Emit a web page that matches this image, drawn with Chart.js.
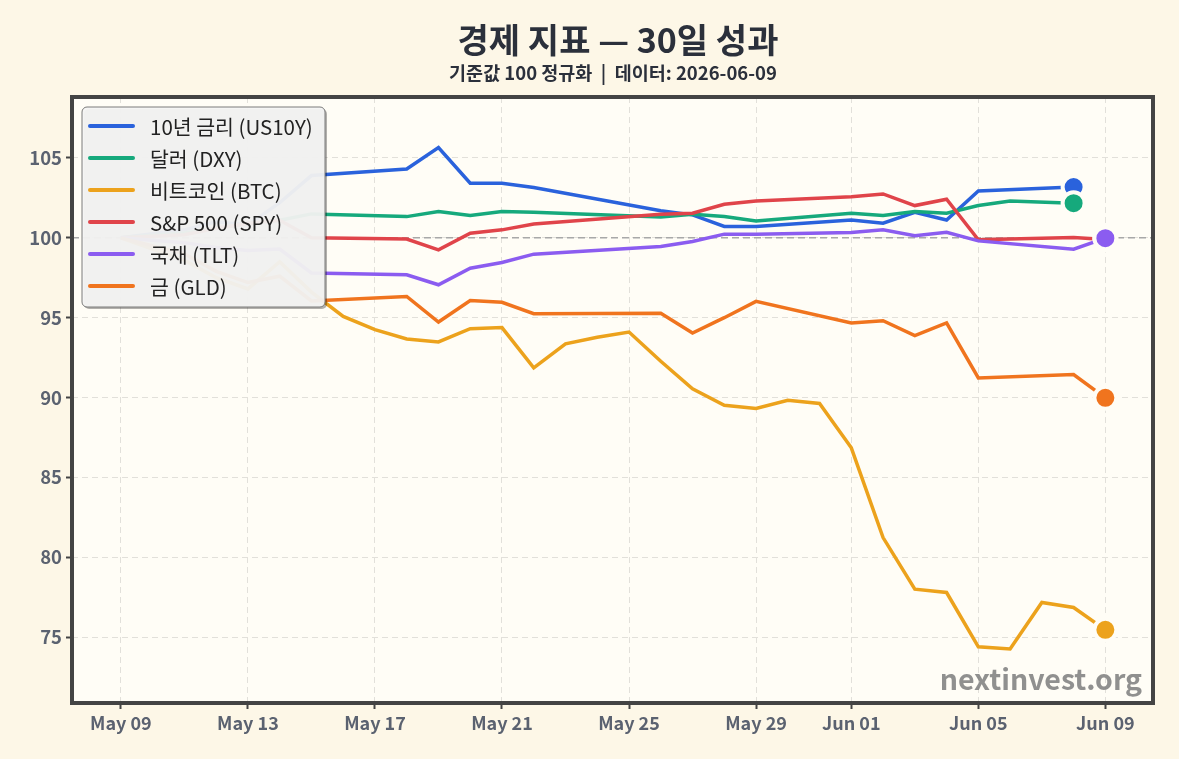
<!DOCTYPE html>
<html>
<head>
<meta charset="utf-8">
<script src="https://cdn.jsdelivr.net/npm/chart.js@4.4.1/dist/chart.umd.min.js"></script>
<style>
  html, body { margin: 0; padding: 0; background: #fdf7e7; }
  #wrap { position: relative; width: 1179px; height: 759px; }
</style>
</head>
<body>
<div id="wrap"><canvas id="c"></canvas></div>
<script>
// ---- data (day index 0 = 2026-05-09) ----
const dates = ['05-09','05-10','05-11','05-12','05-13','05-14','05-15','05-16','05-17','05-18','05-19','05-20','05-21','05-22','05-23','05-24','05-25','05-26','05-27','05-28','05-29','05-30','05-31','06-01','06-02','06-03','06-04','06-05','06-06','06-07','06-08','06-09'];
const tickDays = [0, 4, 8, 12, 16, 20, 23, 27, 31];
const tickLabels = ['May 09','May 13','May 17','May 21','May 25','May 29','Jun 01','Jun 05','Jun 09'];
const yTicks = [75, 80, 85, 90, 95, 100, 105];
const seriesNames = ['10년 금리 (US10Y)', '달러 (DXY)', '비트코인 (BTC)', 'S&P 500 (SPY)', '국채 (TLT)', '금 (GLD)'];
const seriesColors = ['#2a62dc', '#16a97c', '#eca21c', '#e0444a', '#8b5cf0', '#f0741e'];

const us10y = [100, null, 100.5, 101.0, 100.8, 102.2, 103.9, null, null, 104.31, 105.65, 103.42, 103.42, 103.15, null, null, null, 101.7, 101.44, 100.71, 100.71, null, null, 101.12, 100.92, 101.6, 101.12, 102.94, null, null, 103.18, null];
const dxy   = [100, null, 100.3, 100.6, 100.9, 101.1, 101.5, null, null, 101.33, 101.65, 101.4, 101.65, 101.6, null, null, null, 101.3, 101.48, 101.33, 101.06, null, null, 101.54, 101.4, 101.65, 101.54, 102.02, 102.3, null, 102.17, null];
const btc   = [100, 99.3, 98.6, 97.5, 96.8, 98.5, 96.6, 95.08, 94.25, 93.67, 93.48, 94.31, 94.38, 91.86, 93.36, 93.77, 94.1, 92.27, 90.55, 89.52, 89.31, 89.83, 89.63, 86.85, 81.23, 78.0, 77.79, 74.39, 74.25, 77.17, 76.85, 75.45];
const spy   = [100, null, 100.2, 100.6, 100.9, 101.1, 100.0, null, null, 99.92, 99.25, 100.29, 100.5, 100.87, null, null, null, 101.48, 101.54, 102.1, 102.31, null, null, 102.58, 102.75, 102.02, 102.42, 99.88, null, null, 100.02, 99.9];
const tlt   = [100, null, 99.7, 99.4, 99.2, 99.3, 97.8, null, null, 97.69, 97.06, 98.1, 98.46, 98.98, null, null, null, 99.46, 99.77, 100.23, 100.23, null, null, 100.33, 100.5, 100.13, 100.35, 99.81, null, null, 99.29, 99.98];
const gld   = [100, null, 99.0, 97.9, 97.2, 97.6, 96.05, null, null, 96.33, 94.73, 96.08, 95.96, 95.25, null, null, null, 95.27, 94.04, 95.0, 96.02, null, null, 94.67, 94.81, 93.88, 94.67, 91.23, null, null, 91.44, 89.98];
const seriesValues = [us10y, dxy, btc, spy, tlt, gld];

const titleText = '경제 지표 — 30일 성과';
const subtitleText = '기준값 100 정규화  |  데이터: 2026-06-09';
const watermarkText = 'nextinvest.org';

// ---- styling ----
const FONT = "'Noto Sans CJK KR', 'Noto Sans', sans-serif";
const PLOT_BG = '#fffdf6';

function lastIndex(arr) { for (let i = arr.length - 1; i >= 0; i--) if (arr[i] !== null) return i; return -1; }

const datasets = seriesValues.map((vals, k) => {
  const li = lastIndex(vals);
  return {
    label: seriesNames[k],
    data: vals.map((v, i) => ({ x: i, y: v })),
    borderColor: seriesColors[k],
    backgroundColor: seriesColors[k],
    borderWidth: 3.5,
    tension: 0,
    spanGaps: true,
    order: seriesValues.length - k,
    pointRadius: ctx => ctx.dataIndex === li ? 11 : 0,
    pointHoverRadius: 0,
    pointBackgroundColor: seriesColors[k],
    pointBorderColor: PLOT_BG,
    pointBorderWidth: 4
  };
});

const decor = {
  id: 'decor',
  beforeDraw(chart) {
    const { ctx, chartArea: a } = chart;
    ctx.save();
    ctx.fillStyle = PLOT_BG;
    ctx.fillRect(a.left, a.top, a.right - a.left, a.bottom - a.top);
    ctx.fillStyle = '#2b303b';
    ctx.textAlign = 'center';
    ctx.textBaseline = 'middle';
    ctx.font = `bold 34px ${FONT}`;
    ctx.fillText(titleText, 618, 40);
    ctx.font = `bold 18.5px ${FONT}`;
    ctx.fillText(subtitleText, 613, 73);
    ctx.restore();
  },
  beforeDatasetsDraw(chart) {
    const { ctx, chartArea: a, scales } = chart;
    ctx.save();
    const y = scales.y.getPixelForValue(100);
    ctx.strokeStyle = '#a8a8a8';
    ctx.lineWidth = 1.5;
    ctx.setLineDash([7, 4]);
    ctx.beginPath(); ctx.moveTo(a.left, y); ctx.lineTo(a.right, y); ctx.stroke();
    ctx.setLineDash([]);
    ctx.fillStyle = 'rgba(125,125,125,0.85)';
    ctx.font = `bold 28.5px ${FONT}`;
    ctx.textAlign = 'right';
    ctx.textBaseline = 'alphabetic';
    ctx.fillText(watermarkText, 1142, 690);
    ctx.restore();
  },
  afterDatasetsDraw(chart) {
    const { ctx, chartArea: a } = chart;
    ctx.save();
    ctx.strokeStyle = '#444444';
    ctx.lineWidth = 4;
    ctx.strokeRect(a.left, a.top, a.right - a.left, a.bottom - a.top);
    const bx = 82, by = 107, bw = 243, bh = 200, r = 5;
    const rr = (x, y, w, h) => { ctx.beginPath(); ctx.roundRect(x, y, w, h, r); };
    rr(bx + 2, by + 2, bw, bh); ctx.fillStyle = 'rgba(0,0,0,0.3)'; ctx.fill();
    rr(bx, by, bw, bh); ctx.fillStyle = 'rgba(244,244,243,0.95)'; ctx.fill();
    ctx.lineWidth = 1; ctx.strokeStyle = '#7a7a7a'; ctx.stroke();
    ctx.font = `20.5px ${FONT}`;
    ctx.textAlign = 'left';
    ctx.textBaseline = 'middle';
    seriesNames.forEach((name, k) => {
      const yy = 126 + k * 32;
      ctx.strokeStyle = seriesColors[k];
      ctx.lineWidth = 4;
      ctx.lineCap = 'round';
      ctx.beginPath(); ctx.moveTo(90, yy); ctx.lineTo(133, yy); ctx.stroke();
      ctx.fillStyle = '#222222';
      ctx.fillText(name, 150, yy + 1);
    });
    ctx.restore();
  }
};

new Chart(document.getElementById('c'), {
  type: 'line',
  data: { datasets },
  plugins: [decor],
  options: {
    responsive: true,
    maintainAspectRatio: false,
    animation: false,
    devicePixelRatio: 1,
    events: [],
    layout: { padding: { top: 97, right: 26, bottom: 0, left: 0 } },
    plugins: { legend: { display: false }, title: { display: false }, tooltip: { enabled: false } },
    scales: {
      x: {
        type: 'linear',
        min: -1.54,
        max: 32.5,
        afterBuildTicks: s => { s.ticks = tickDays.map(v => ({ value: v })); },
        afterFit: s => { s.height = 56; },
        ticks: {
          autoSkip: false,
          maxRotation: 0,
          padding: 3,
          color: '#5b6270',
          font: { family: FONT, size: 18, weight: 'bold' },
          callback: v => tickLabels[tickDays.indexOf(v)]
        },
        grid: { color: '#e2e0da', lineWidth: 1, tickColor: '#444444', tickLength: 6, tickWidth: 2 },
        border: { display: false, dash: [6, 4] }
      },
      y: {
        type: 'linear',
        min: 70.87,
        max: 108.82,
        afterBuildTicks: s => { s.ticks = yTicks.map(v => ({ value: v })); },
        afterFit: s => { s.width = 72; },
        ticks: {
          padding: 4,
          color: '#5b6270',
          font: { family: FONT, size: 18.5, weight: 'bold' },
          callback: v => String(v)
        },
        grid: { color: '#e2e0da', lineWidth: 1, tickColor: '#444444', tickLength: 6, tickWidth: 2 },
        border: { display: false, dash: [6, 4] }
      }
    }
  }
});
</script>
</body>
</html>
